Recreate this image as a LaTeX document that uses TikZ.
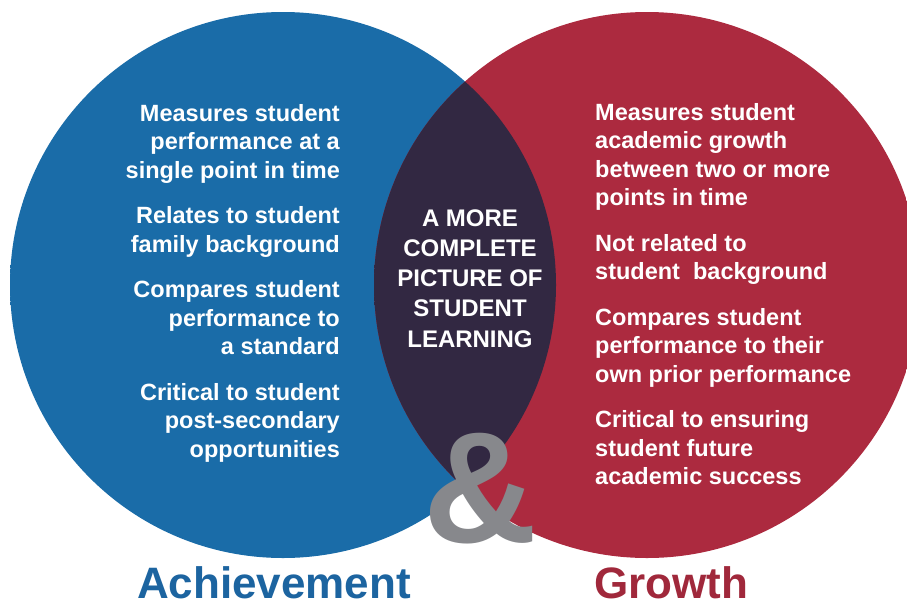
\documentclass[tikz,border=0pt]{standalone}
\usepackage{fontspec}
\setmainfont{Liberation Sans}
\usepackage{color}
\usepackage{tikz}
\usetikzlibrary{positioning}
\definecolor{blueIn}{HTML}{1A6CA8}
\definecolor{blueOut}{HTML}{145A8D}
\definecolor{redIn}{HTML}{AC2A3F}
\definecolor{redOut}{HTML}{901F34}
\definecolor{lensIn}{HTML}{322842}
\definecolor{lensOut}{HTML}{2A2032}
\definecolor{ampGray}{HTML}{87888C}
\definecolor{achBlue}{HTML}{1C64A0}
\definecolor{growRed}{HTML}{A0283B}
\pgfdeclareradialshading{blueball}{\pgfpoint{0bp}{0bp}}{color(0bp)=(blueIn); color(30bp)=(blueIn); color(50bp)=(blueOut)}
\pgfdeclareradialshading{redball}{\pgfpoint{0bp}{0bp}}{color(0bp)=(redIn); color(30bp)=(redIn); color(50bp)=(redOut)}
\pgfdeclareradialshading{lensball}{\pgfpoint{0bp}{0bp}}{color(0bp)=(lensIn); color(25bp)=(lensIn); color(50bp)=(lensOut)}
\tikzstyle{list_text}=[inner sep=0pt, text=white, font=\bfseries\fontsize{23.5}{28.5}\selectfont]
\tikzstyle{mid_text}=[inner sep=0pt, text=white, font=\bfseries\fontsize{24}{30.25}\selectfont]
\tikzstyle{title_text}=[inner sep=0pt, font=\bfseries\fontsize{44}{52}\selectfont]

\begin{document}
\begin{tikzpicture}[x=1pt,y=-1pt]
\useasboundingbox (0,0) rectangle (907,608);
\clip (0,0) rectangle (907,608);
\coordinate (achC) at (283,285);
\coordinate (growC) at (647,285);
\shade[shading=blueball] (achC) circle (273);
\shade[shading=redball] (growC) circle (273);
\begin{scope}
\clip (achC) circle (273);
\shade[shading=lensball] (growC) circle (273);
\end{scope}
\node[list_text, anchor=base east] (achList) at (340,121) {\begin{tabular}[t]{@{}r@{}}
Measures student\\ performance at a\\ single point in time\\[17pt]
Relates to student\\ family background\\[17pt]
Compares student\\ performance to\\ a standard\\[17pt]
Critical to student\\ post-secondary\\ opportunities
\end{tabular}};
\node[list_text, anchor=base west] (growList) at (595,120) {\begin{tabular}[t]{@{}l@{}}
Measures student\\ academic growth\\ between two or more\\ points in time\\[17pt]
Not related to\\ student\ \ background\\[17pt]
Compares student\\ performance to their\\ own prior performance\\[17pt]
Critical to ensuring\\ student future\\ academic success
\end{tabular}};
\node[mid_text, anchor=base] (midText) at (470,226) {\begin{tabular}[t]{@{}c@{}}
A MORE\\ COMPLETE\\ PICTURE OF\\ STUDENT\\ LEARNING
\end{tabular}};
\node[inner sep=0pt, text=ampGray, anchor=base, font=\bfseries\fontsize{158}{160}\selectfont] (amp) at (481,542) {\&};
\node[title_text, text=achBlue, anchor=base] (achTitle) at (274,598) {Achievement};
\node[title_text, text=growRed, anchor=base west] (growTitle) at (594,598) {Growth};
\end{tikzpicture}
\end{document}
